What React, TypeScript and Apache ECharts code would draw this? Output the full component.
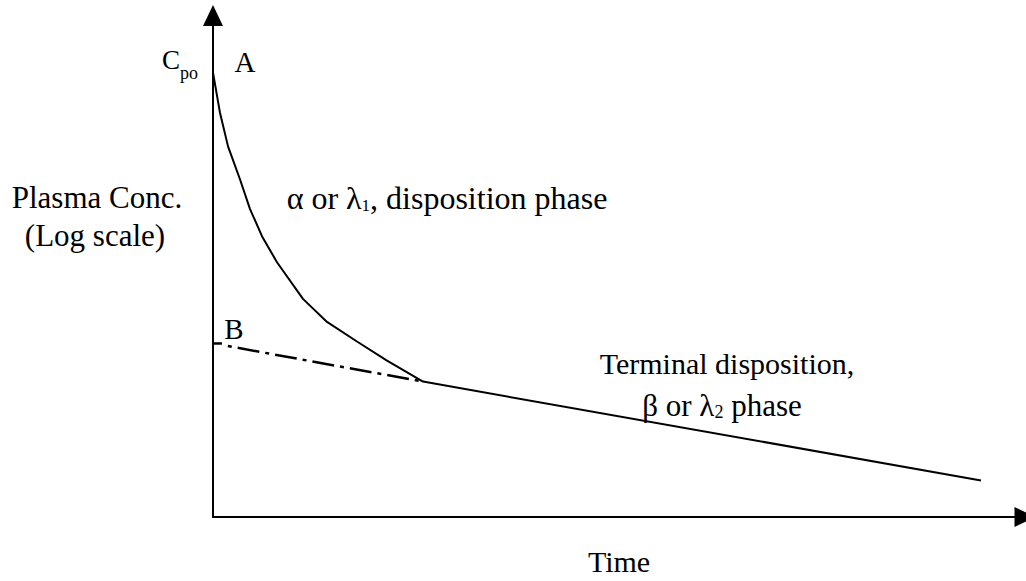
import React, { useEffect, useRef } from "react";
import * as echarts from "echarts";

// Biexponential decline (schematic, values in % of axis range)
const distributionTime = [0, 0.86, 1.85, 3.33, 4.56, 6.03, 7.88, 11.08, 14.04, 17.73, 21.43, 25.86];
const distributionConc = [88.6, 80.6, 73.9, 67.3, 61.4, 56.0, 50.8, 43.5, 38.9, 35.0, 31.2, 27.0];
const terminalTime = [25.86, 94.58];
const terminalConc = [27.0, 7.3];
// Back-extrapolated terminal line to intercept B
const extrapTime = [1.1, 25.86];
const extrapConc = [34.3, 27.0];
const interceptTickTime = [0, 1.1];
const interceptTickConc = [34.6, 34.6];

const FONT = '"Liberation Serif", "Times New Roman", serif';

const zip = (a: number[], b: number[]) => a.map((v, i) => [v, b[i]]);

export default function App() {
  const ref = useRef<HTMLDivElement>(null);
  useEffect(() => {
    if (!ref.current) return;
    const chart = echarts.init(ref.current, null, { renderer: "svg" });
    const curve = zip(distributionTime, distributionConc).concat(zip(terminalTime, terminalConc).slice(1));
    const axisLine = {
      show: true,
      symbol: ["none", "triangle"],
      symbolSize: [20, 21],
      lineStyle: { color: "#000", width: 2 },
    };
    const center = { align: "center", verticalAlign: "middle", textAlign: "center", textVerticalAlign: "middle", fill: "#000" };
    chart.setOption({
      animation: false,
      backgroundColor: "#fff",
      grid: { left: 213, right: 1, top: 15.5, bottom: 62 },
      xAxis: {
        type: "value",
        min: 0,
        max: 100,
        axisLine,
        axisTick: { show: false },
        axisLabel: { show: false },
        splitLine: { show: false },
        name: "Time",
        nameLocation: "middle",
        nameGap: 29,
        nameTextStyle: { fontFamily: FONT, fontSize: 30, color: "#000" },
      },
      yAxis: {
        type: "value",
        min: 0,
        max: 100,
        axisLine,
        axisTick: { show: false },
        axisLabel: { show: false },
        splitLine: { show: false },
      },
      series: [
        {
          type: "line",
          data: curve,
          symbol: "none",
          lineStyle: { color: "#000", width: 2 },
        },
        {
          type: "line",
          data: zip(extrapTime, extrapConc),
          symbol: "none",
          lineStyle: { color: "#000", width: 2.5, type: [22, 6, 4, 6], dashOffset: 22 },
        },
        {
          type: "line",
          data: zip(interceptTickTime, interceptTickConc),
          symbol: "none",
          lineStyle: { color: "#000", width: 2.5 },
        },
      ],
      graphic: [
        {
          type: "text",
          x: 162,
          y: 60,
          style: {
            text: "{c|C}{s|po}",
            align: "left",
            verticalAlign: "middle",
            textAlign: "left",
            textVerticalAlign: "middle",
            fill: "#000",
            rich: {
              c: { fontFamily: FONT, fontSize: 27, lineHeight: 44, fill: "#000" },
              s: { fontFamily: FONT, fontSize: 18, lineHeight: 18, verticalAlign: "bottom", fill: "#000" },
            },
          },
        },
        {
          type: "text",
          x: 245,
          y: 62,
          style: { text: "A", font: `29px ${FONT}`, ...center },
        },
        {
          type: "text",
          x: 97,
          y: 197,
          style: { text: "Plasma Conc.", font: `31px ${FONT}`, ...center },
        },
        {
          type: "text",
          x: 95,
          y: 235,
          style: { text: "(Log scale)", font: `31px ${FONT}`, ...center },
        },
        {
          type: "text",
          x: 447,
          y: 198,
          style: {
            text: "{m|α or λ}{s|1}{m|, disposition phase}",
            ...center,
            rich: {
              m: { fontFamily: FONT, fontSize: 32, lineHeight: 32, fill: "#000" },
              s: { fontFamily: FONT, fontSize: 17, lineHeight: 16, verticalAlign: "bottom", fill: "#000" },
            },
          },
        },
        {
          type: "text",
          x: 234,
          y: 329,
          style: { text: "B", font: `29px ${FONT}`, ...center },
        },
        {
          type: "text",
          x: 727,
          y: 363,
          style: { text: "Terminal disposition,", font: `30px ${FONT}`, ...center },
        },
        {
          type: "text",
          x: 722,
          y: 405,
          style: {
            text: "{m|β or λ}{s|2}{m| phase}",
            ...center,
            rich: {
              m: { fontFamily: FONT, fontSize: 31, lineHeight: 32, fill: "#000" },
              s: { fontFamily: FONT, fontSize: 18, lineHeight: 16, verticalAlign: "bottom", fill: "#000" },
            },
          },
        },
      ],
    });
    return () => chart.dispose();
  }, []);
  return (
    <div
      ref={ref}
      style={{ position: "absolute", left: 0, top: 0, width: 1026, height: 581, background: "#fff" }}
    />
  );
}
